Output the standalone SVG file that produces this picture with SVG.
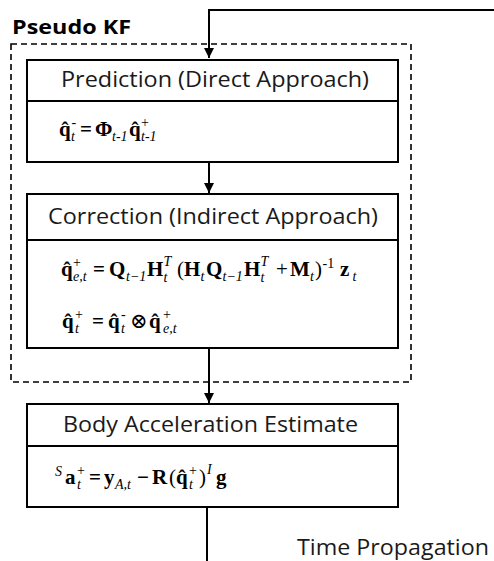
<svg xmlns="http://www.w3.org/2000/svg" width="494" height="561" viewBox="0 0 494 561">
<style>
  .box { fill: #ffffff; stroke: #000000; stroke-width: 2; }
  .div { stroke: #000000; stroke-width: 2; fill: none; }
  .dash { fill: none; stroke: #000000; stroke-width: 1.6; stroke-dasharray: 6 4; }
  .conn { fill: none; stroke: #000000; stroke-width: 2; }
  .hd { font-family: "Open Sans", "Liberation Sans", sans-serif; font-size: 21px; fill: #1a1a1a; }
  .title { font-family: "Open Sans", "Liberation Sans", sans-serif; font-size: 20px; font-weight: bold; fill: #000000; }
  .eq { font-family: "Liberation Serif", "DejaVu Serif", serif; font-size: 21px; font-weight: bold; fill: #000000; }
  .s { font-size: 14px; font-style: italic; font-weight: normal; }
  .p { font-size: 14px; font-weight: normal; font-style: normal; }
  .n { font-weight: normal; }
</style>
<defs>
  <marker id="arr" viewBox="0 0 10 10" refX="10" refY="5" markerWidth="10" markerHeight="10" markerUnits="userSpaceOnUse" orient="auto">
    <path d="M0,0 L10,5 L0,10 Z" fill="#000000"/>
  </marker>
</defs>

<g id="connectors">
  <path class="conn" d="M494,10 H209 V58" marker-end="url(#arr)"/>
  <path class="conn" d="M209,162 V193" marker-end="url(#arr)"/>
  <path class="conn" d="M209,348 V403" marker-end="url(#arr)"/>
  <path class="conn" d="M207,507 V561"/>
  <text class="hd" x="297" y="555" textLength="192" lengthAdjust="spacingAndGlyphs">Time Propagation</text>
</g>

<g id="pseudo-kf">
  <rect class="dash" x="11" y="44" width="400" height="338"/>
  <text class="title" x="12" y="34" textLength="119" lengthAdjust="spacingAndGlyphs">Pseudo KF</text>
</g>

<g id="prediction">
  <rect class="box" x="27" y="60" width="371" height="102"/>
  <line class="div" x1="27" y1="101" x2="398" y2="101"/>
  <text class="hd" x="61" y="87" textLength="308" lengthAdjust="spacingAndGlyphs">Prediction (Direct Approach)</text>
  <text class="eq"><tspan x="59" y="136">q̂</tspan><tspan class="p" x="71.5" y="127">-</tspan><tspan class="s" x="71" y="141">t</tspan><tspan x="80" y="136">=</tspan><tspan x="95" y="136">Φ</tspan><tspan class="s" x="112" y="141">t-1</tspan><tspan x="129" y="136">q̂</tspan><tspan class="p" x="141" y="127">+</tspan><tspan class="s" x="141" y="141">t-1</tspan></text>
</g>

<g id="correction">
  <rect class="box" x="27" y="194" width="371" height="154"/>
  <line class="div" x1="27" y1="240" x2="398" y2="240"/>
  <text class="hd" x="48" y="224" textLength="330" lengthAdjust="spacingAndGlyphs">Correction (Indirect Approach)</text>
  <text class="eq"><tspan x="61" y="276">q̂</tspan><tspan class="p" x="73" y="267">+</tspan><tspan class="s" x="73" y="281">e,t</tspan><tspan x="93" y="276">=</tspan><tspan x="109" y="276">Q</tspan><tspan class="s" x="126" y="281">t−1</tspan><tspan x="147" y="276">H</tspan><tspan class="s" x="163.5" y="266">T</tspan><tspan class="s" x="163.5" y="282">t</tspan><tspan class="n" x="177" y="276">(</tspan><tspan x="184" y="276">H</tspan><tspan class="s" x="200.5" y="281">t</tspan><tspan x="206" y="276">Q</tspan><tspan class="s" x="222.5" y="281">t−1</tspan><tspan x="244" y="276">H</tspan><tspan class="s" x="260.5" y="266">T</tspan><tspan class="s" x="260.5" y="282">t</tspan><tspan class="n" x="276" y="276">+</tspan><tspan x="290" y="276">M</tspan><tspan class="s" x="310" y="281">t</tspan><tspan class="n" x="315" y="276">)</tspan><tspan class="p" x="322.5" y="268">-1</tspan><tspan x="340" y="276">z</tspan><tspan class="s" x="352.5" y="281">t</tspan></text>
  <text class="eq"><tspan x="62" y="328">q̂</tspan><tspan class="p" x="75" y="319">+</tspan><tspan class="s" x="75" y="333">t</tspan><tspan x="92" y="328">=</tspan><tspan x="108" y="328">q̂</tspan><tspan class="p" x="121" y="319">-</tspan><tspan class="s" x="121" y="333">t</tspan><tspan class="n" x="130" y="328">⊗</tspan><tspan x="149" y="328">q̂</tspan><tspan class="p" x="163" y="319">+</tspan><tspan class="s" x="163" y="333">e,t</tspan></text>
</g>

<g id="body-acceleration">
  <rect class="box" x="27" y="404" width="371" height="103"/>
  <line class="div" x1="27" y1="446" x2="398" y2="446"/>
  <text class="hd" x="63" y="432" textLength="295" lengthAdjust="spacingAndGlyphs">Body Acceleration Estimate</text>
  <text class="eq"><tspan class="s" x="55" y="476">S</tspan><tspan x="65" y="484">a</tspan><tspan class="p" x="77" y="475">+</tspan><tspan class="s" x="77" y="489">t</tspan><tspan x="89" y="484">=</tspan><tspan x="104" y="484">y</tspan><tspan class="s" x="115" y="489">A,t</tspan><tspan x="137" y="484">−</tspan><tspan x="152" y="484">R</tspan><tspan class="n" x="169" y="484">(</tspan><tspan x="176" y="484">q̂</tspan><tspan class="p" x="189" y="475">+</tspan><tspan class="s" x="189" y="489">t</tspan><tspan class="n" x="199" y="484">)</tspan><tspan class="s" x="207" y="474">I</tspan><tspan x="216" y="484">g</tspan></text>
</g>
</svg>
